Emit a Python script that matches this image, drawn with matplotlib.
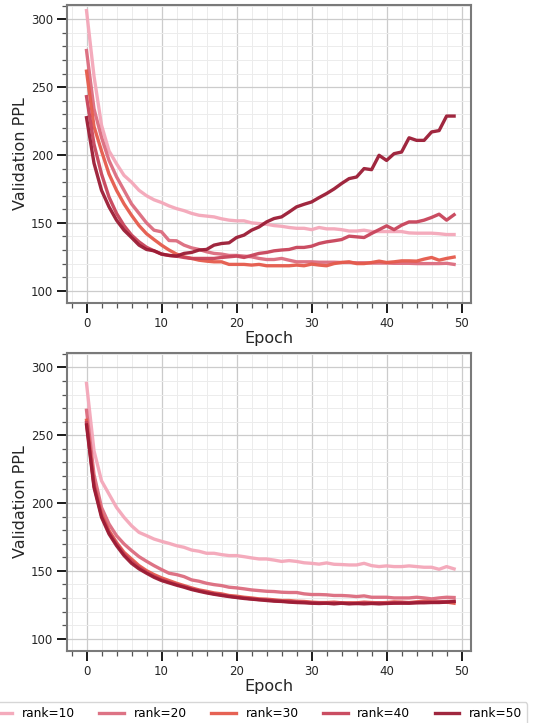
"""Validation PPL per epoch for several LoRA ranks (two training setups)."""

import matplotlib
matplotlib.use("Agg")
import matplotlib.pyplot as plt
from matplotlib.ticker import MultipleLocator

epochs = list(range(50))
ranks = ["rank=10", "rank=20", "rank=30", "rank=40", "rank=50"]
colors = ["#f4a7b9", "#dc6b7e", "#e55a4b", "#c8435a", "#9b1b34"]

# top panel: larger ranks start overfitting
top_r10 = [306.4, 258, 222, 203, 193.6, 185, 180, 174, 170, 167,
           165, 162.5, 160.5, 159, 157, 155.6, 155, 154.4, 153, 152,
           151.5, 151.5, 150, 149.5, 149, 148, 147.5, 146.6, 146, 146,
           145, 146.6, 145.6, 145.6, 145, 144, 144, 144.6, 143.6, 143.6,
           143.6, 143.6, 143.6, 142.6, 142.4, 142.4, 142.4, 142, 141.4, 141.4]
top_r20 = [277, 234, 213, 196, 184, 174, 164, 157, 150, 144.6,
           143.4, 137, 136.8, 133.6, 131.6, 130.4, 128.7, 127.5, 127, 126,
           126, 125.5, 125, 123.8, 123, 123, 123.8, 122.5, 121.3, 121.3,
           121.3, 121, 121, 121, 120.8, 120.8, 120.6, 120.6, 120.4, 120.4,
           120.4, 120.2, 120.2, 120.2, 120, 120, 120, 120, 120.2, 119.4]
top_r30 = [261.8, 221, 203, 186, 174, 164, 155.6, 148, 142, 137.7,
           133.6, 130, 127, 125, 123.8, 122.5, 121.8, 121.3, 121.3, 119.4,
           119.4, 119.4, 118.9, 119.4, 118.4, 118.4, 118.4, 118.4, 118.9, 118.4,
           119.6, 118.9, 118.4, 120, 120.8, 121.3, 120, 120, 120.8, 121.8,
           120.8, 121.3, 122, 122, 121.8, 123.3, 124.5, 122.5, 123.8, 124.8]
top_r40 = [243, 208, 186, 169, 157, 148, 141, 136, 132, 129.4,
           127, 126, 125.5, 124.5, 123.8, 123.8, 123.8, 123.8, 124.5, 125,
           125.5, 124.5, 126, 127.5, 128.2, 129.4, 130, 130.4, 131.9, 131.9,
           132.8, 134.8, 136, 136.8, 137.7, 140.2, 139.7, 139.2, 142.2, 145,
           147.8, 145, 148.3, 150.7, 150.7, 152, 154, 156.4, 152, 156]
top_r50 = [227.5, 194, 174, 161.8, 152, 144.6, 139.2, 133.6, 130.4, 129.4,
           127, 126, 125.5, 127.5, 128.2, 130, 130.4, 133.6, 134.8, 135.3,
           139.2, 141, 144.6, 147, 150.7, 153.2, 154.4, 158, 161.8, 163.7,
           165.4, 168.6, 171.6, 175, 179, 182.6, 183.8, 190, 189.2, 199.8,
           196, 201, 202.2, 212.7, 210.8, 210.8, 217, 218, 228.7, 228.7]

# bottom panel: all ranks converge
bot_r10 = [288.2, 238.5, 216.4, 206.6, 196.8, 189.5, 183.3, 178.4, 176, 173.5,
           171.8, 170.3, 168.6, 167.4, 165.4, 164.5, 163, 163, 162, 161.3,
           161.3, 160.5, 159.6, 158.8, 158.8, 158, 157, 157.6, 157, 156,
           155.6, 155, 155.9, 154.9, 154.7, 154.4, 154.4, 155.6, 153.9, 153.2,
           153.7, 153.2, 153.2, 153.7, 153.2, 152.7, 152.7, 151.2, 153.2, 151.5]
bot_r20 = [268.4, 221, 196.8, 184.6, 176, 169.9, 165, 160.5, 157.1, 153.9,
           151, 148.3, 147.3, 145.8, 143.4, 142.4, 140.9, 139.9, 139.2, 138,
           137.5, 136.8, 136, 135.5, 135, 134.8, 134.3, 134.1, 134.1, 133.1,
           132.6, 132.6, 132.4, 131.9, 131.9, 131.6, 131.1, 131.6, 130.6, 130.6,
           130.6, 130.1, 130.1, 130.1, 130.6, 130.1, 129.4, 130.1, 130.6, 130.4]
bot_r30 = [261, 214, 192, 179.7, 171, 163.7, 158.8, 153.9, 150.2, 147.3,
           144.9, 142.9, 140.9, 139.2, 137.5, 136, 135, 133.8, 133.1, 131.9,
           131.4, 130.6, 130.1, 129.4, 129.2, 128.7, 128.2, 128.2, 127.7, 127.5,
           127, 126.7, 126.7, 127, 126.5, 126.5, 126.5, 127, 126.7, 126.5,
           126.7, 127.2, 127, 126.7, 127.2, 127.7, 127.2, 127.2, 127, 126.2]
bot_r40 = [259.3, 212.7, 190.7, 178.4, 169.9, 162.5, 157.1, 152.7, 149, 146,
           143.6, 141.7, 140, 138.5, 136.8, 135.5, 134.3, 133.1, 132.4, 131.4,
           130.6, 130.1, 129.4, 128.9, 128.7, 128.2, 127.7, 127.5, 127.2, 127,
           126.5, 126.5, 126.2, 126.5, 126.2, 126.2, 126, 126.5, 126.2, 126.5,
           126.2, 126.5, 126.7, 126.5, 126.7, 127, 127, 127.2, 127.5, 127.7]
bot_r50 = [257.6, 211.5, 189.5, 177.2, 168.6, 161.3, 155.6, 151.5, 148.3, 145.3,
           142.9, 141.2, 139.5, 138, 136.3, 135, 133.8, 132.8, 131.9, 131.1,
           130.4, 129.7, 129.2, 128.7, 128.2, 127.7, 127.5, 127, 126.7, 126.5,
           126.2, 126, 126.2, 125.7, 126.2, 125.7, 126, 125.7, 126, 125.7,
           126, 126.2, 126.2, 126.2, 126.5, 126.5, 126.7, 126.7, 127, 127.5]

top_runs = [top_r10, top_r20, top_r30, top_r40, top_r50]
bot_runs = [bot_r10, bot_r20, bot_r30, bot_r40, bot_r50]

fig = plt.figure(figsize=(5.47, 7.23), dpi=100)
ax_top = fig.add_axes([0.1225, 0.581, 0.7385, 0.412])
ax_bot = fig.add_axes([0.1225, 0.0996, 0.7385, 0.412])

for ax, runs in [(ax_top, top_runs), (ax_bot, bot_runs)]:
    for label, col, vals in zip(ranks, colors, runs):
        ax.plot(epochs, vals, color=col, lw=2.4, alpha=0.95, label=label)
    ax.set_xlim(-2.6, 51.25)
    ax.set_ylim(91, 310.5)
    ax.set_xlabel("Epoch", fontsize=11.5, labelpad=1, color="#262626")
    ax.set_ylabel("Validation PPL", fontsize=11.5, labelpad=2, color="#262626")
    ax.xaxis.set_major_locator(MultipleLocator(10))
    ax.xaxis.set_minor_locator(MultipleLocator(2))
    ax.yaxis.set_major_locator(MultipleLocator(50))
    ax.yaxis.set_minor_locator(MultipleLocator(10))
    ax.grid(which="major", color="#cccccc", lw=0.9)
    ax.grid(which="minor", color="#ececec", lw=0.7)
    ax.set_axisbelow(True)
    ax.tick_params(which="major", length=7, width=1.4, labelsize=8.5, pad=3,
                   color="#1a1a1a", labelcolor="#262626")
    ax.tick_params(which="minor", length=3.5, width=0.9, color="#555555")
    for sp in ax.spines.values():
        sp.set_color("#7a7a7a")
        sp.set_linewidth(1.5)

handles, labels = ax_top.get_legend_handles_labels()
fig.legend(handles, labels, loc="upper center", bbox_to_anchor=(255 / 547, 0.037),
           ncol=5, fontsize=8.8, frameon=True, edgecolor="#cccccc")

fig.savefig("out.png", dpi=100)
